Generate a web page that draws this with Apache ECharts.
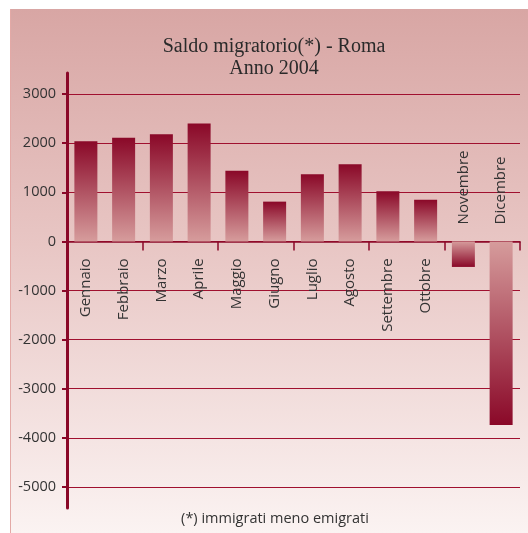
<!DOCTYPE html>
<html>
<head>
<meta charset="utf-8">
<script src="https://cdn.jsdelivr.net/npm/echarts@6/dist/echarts.min.js"></script>
<style>
    html, body { margin: 0; padding: 0; background: #fff; }
    #chart {
        position: absolute; left: 10px; top: 9px;
        width: 517px; height: 524px;
        border-left: 1px solid #e3a9a6;
        background: linear-gradient(to bottom, #d8a6a4 0%, #e8c6c4 45%, #fbf3f2 100%);
    }
</style>
</head>
<body>
<div id="chart"></div>
<script>
// months of 2004
let months = ['Gennaio', 'Febbraio', 'Marzo', 'Aprile', 'Maggio', 'Giugno',
    'Luglio', 'Agosto', 'Settembre', 'Ottobre', 'Novembre', 'Dicembre'];
// saldo migratorio (immigrati - emigrati)
let saldo = [2040, 2110, 2180, 2400, 1440, 810, 1370, 1570, 1020, 850, -520, -3740];
let yTicks = [-5000, -4000, -3000, -2000, -1000, 0, 1000, 2000, 3000];

let dark = '#8a0828';
let light = '#d69c9c';

let chart = echarts.init(document.getElementById('chart'));

let barData = saldo.map(function(v){
    let neg = v < 0;
    return {
        value: v,
        itemStyle: {
            color: new echarts.graphic.LinearGradient(0, 0, 0, 1, neg ? [
                {offset: 0, color: light}, {offset: 1, color: dark}
            ] : [
                {offset: 0, color: dark}, {offset: 1, color: light}
            ])
        },
        label: {
            position: neg ? 'top' : 'bottom',
            align: neg ? 'left' : 'right'
        }
    };
});

let option = {
    animation: false,
    title: [{
        text: 'Saldo migratorio(*) - Roma\nAnno 2004',
        left: 258,
        textAlign: 'center',
        top: 22,
        textStyle: {
            fontFamily: 'Liberation Serif',
            fontWeight: 'normal',
            fontSize: 20,
            lineHeight: 22,
            color: '#2a2a2a'
        }
    }, {
        text: '(*) immigrati meno emigrati',
        left: 259,
        textAlign: 'center',
        top: 497,
        textStyle: {
            fontFamily: 'Open Sans',
            fontWeight: 'normal',
            fontSize: 14.5,
            color: '#333'
        }
    }],
    grid: {
        left: 56,
        right: 8,
        top: 64,
        bottom: 25
    },
    xAxis: {
        type: 'category',
        data: months,
        axisLine: {onZero: true, lineStyle: {color: dark, width: 1.5}},
        axisTick: {show: true, length: 9, inside: false, lineStyle: {color: dark, width: 1.5}},
        axisLabel: {show: false}
    },
    yAxis: {
        type: 'value',
        min: -5430,
        max: 3430,
        axisLine: {show: true, lineStyle: {color: dark, width: 3}},
        axisTick: {show: true, length: 5, customValues: yTicks, lineStyle: {color: dark, width: 2}},
        axisLabel: {
            customValues: yTicks,
            formatter: function(v){ return String(v); },
            margin: 11,
            fontFamily: 'Open Sans',
            fontSize: 14.5,
            color: '#333'
        },
        splitLine: {show: true, lineStyle: {color: '#a0102f', width: 1.2}}
    },
    series: [{
        type: 'bar',
        data: barData,
        barWidth: 23,
        label: {
            show: true,
            formatter: '{b}',
            rotate: 90,
            distance: 17,
            verticalAlign: 'middle',
            fontFamily: 'Open Sans',
            fontSize: 15,
            color: '#333'
        }
    }]
};
chart.setOption(option);
</script>
</body>
</html>
